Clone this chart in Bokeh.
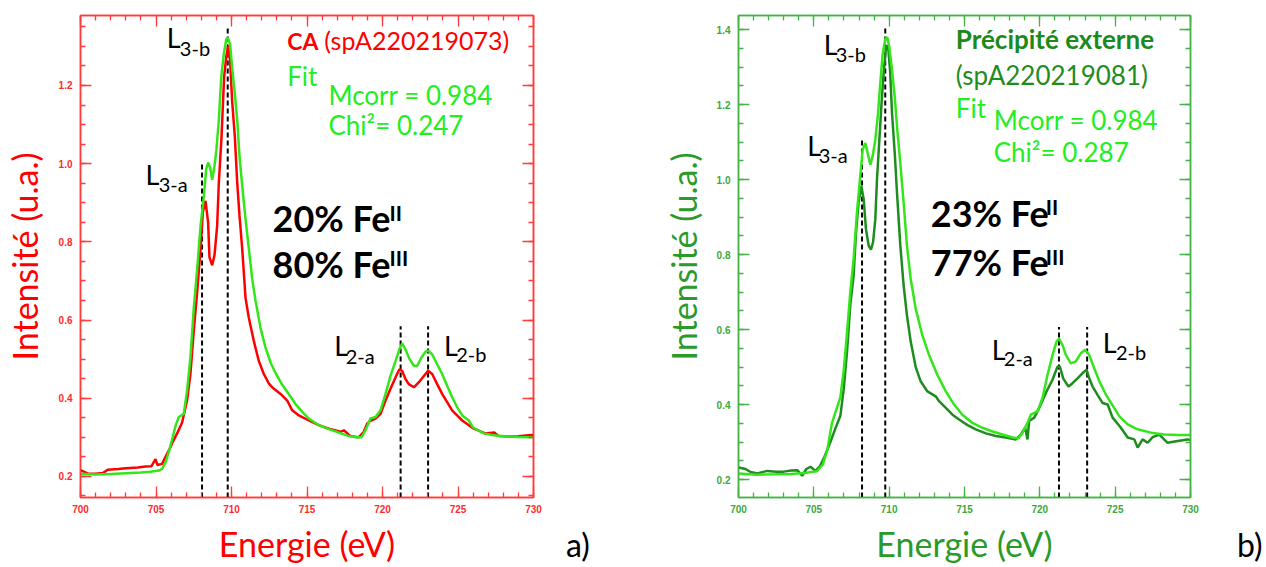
from bokeh.plotting import figure
from bokeh.models import (Label, LinearAxis, SingleIntervalTicker, Range1d,
                          PrintfTickFormatter, Div)
from bokeh.layouts import row
from bokeh.embed import file_html
from bokeh.resources import INLINE

# ---------------- Panel a : CA (spA220219073) ----------------
energy_a_exp = [700.0, 700.5, 701.0, 701.5, 701.8, 702.5, 703.0, 703.8, 704.3, 704.7,
                704.97, 705.1, 705.4, 705.63, 705.9, 706.07, 706.4, 706.73, 707.06, 707.28,
                707.5, 707.73, 707.95, 708.1, 708.28, 708.45, 708.54, 708.72, 708.87, 709.05,
                709.16, 709.34, 709.51, 709.65, 709.78, 709.91, 710.04, 710.22, 710.38, 710.53,
                710.71, 710.93, 711.15, 711.48, 711.81, 712.14, 712.47, 712.69, 713.25, 713.69,
                714.02, 714.46, 715.12, 715.78, 716.45, 717.22, 717.44, 717.88, 718.43, 718.76,
                718.98, 719.2, 719.54, 719.87, 720.2, 720.53, 720.86, 721.12, 721.3, 721.52,
                721.74, 722.08, 722.41, 722.74, 723.02, 723.29, 723.62, 723.95, 724.28, 724.61,
                724.94, 725.28, 725.72, 726.04, 726.8, 727.4, 727.7, 728.3, 729.0, 729.85, 730.0]
intensity_a_exp = [0.216, 0.207, 0.207, 0.209, 0.217, 0.219, 0.221, 0.223, 0.225, 0.226,
                   0.244, 0.229, 0.232, 0.25, 0.27, 0.285, 0.31, 0.338, 0.395, 0.462,
                   0.571, 0.673, 0.782, 0.875, 0.905, 0.85, 0.761, 0.74, 0.765, 0.841,
                   0.951, 1.069, 1.221, 1.272, 1.301, 1.263, 1.162, 1.069, 0.951, 0.867,
                   0.782, 0.656, 0.605, 0.546, 0.495, 0.462, 0.438, 0.428, 0.411, 0.394,
                   0.369, 0.356, 0.343, 0.331, 0.322, 0.314, 0.318, 0.303, 0.3, 0.314,
                   0.335, 0.342, 0.348, 0.36, 0.394, 0.424, 0.453, 0.474, 0.47, 0.449,
                   0.436, 0.428, 0.441, 0.457, 0.47, 0.462, 0.436, 0.411, 0.39, 0.369,
                   0.356, 0.343, 0.331, 0.322, 0.31, 0.312, 0.303, 0.302, 0.303, 0.306, 0.306]

energy_a_fit = [700.0, 701.0, 702.0, 703.0, 704.0, 704.6, 705.2, 705.4, 705.63, 705.9,
                706.07, 706.3, 706.51, 706.84, 707.06, 707.28, 707.5, 707.73, 707.95, 708.17,
                708.32, 708.45, 708.59, 708.72, 708.87, 709.0, 709.16, 709.32, 709.49, 709.65,
                709.76, 709.91, 710.04, 710.22, 710.38, 710.53, 710.71, 710.93, 711.15, 711.37,
                711.59, 711.92, 712.25, 712.6, 712.91, 713.35, 713.8, 714.24, 714.68, 715.12,
                715.78, 716.45, 717.11, 717.77, 718.21, 718.6, 718.87, 719.2, 719.54, 719.87,
                720.2, 720.53, 720.86, 721.12, 721.3, 721.52, 721.79, 722.08, 722.3, 722.58,
                722.85, 723.02, 723.29, 723.62, 723.95, 724.28, 724.61, 724.94, 725.28, 725.72,
                726.0, 726.7, 727.36, 728.27, 729.0, 730.0]
intensity_a_fit = [0.207, 0.205, 0.206, 0.208, 0.21, 0.212, 0.215, 0.219, 0.235, 0.27,
                   0.295, 0.33, 0.352, 0.36, 0.42, 0.504, 0.63, 0.732, 0.841, 0.917,
                   0.985, 1.003, 0.989, 0.959, 0.993, 1.035, 1.111, 1.221, 1.28, 1.318,
                   1.322, 1.305, 1.246, 1.179, 1.111, 1.019, 0.943, 0.858, 0.782, 0.706,
                   0.65, 0.58, 0.53, 0.49, 0.465, 0.435, 0.41, 0.385, 0.365, 0.348,
                   0.331, 0.321, 0.312, 0.303, 0.3, 0.3, 0.318, 0.348, 0.352, 0.369,
                   0.411, 0.457, 0.495, 0.525, 0.54, 0.525, 0.5, 0.483, 0.483, 0.504,
                   0.519, 0.522, 0.512, 0.487, 0.462, 0.432, 0.403, 0.377, 0.356, 0.343,
                   0.325, 0.31, 0.305, 0.302, 0.301, 0.3]

# ---------------- Panel b : Précipité externe (spA220219081) ----------------
energy_b_exp = [700.0, 700.47, 700.8, 701.24, 701.9, 702.5, 703.0, 703.5, 703.9, 704.23,
                704.5, 704.78, 705.1, 705.4, 705.7, 706.1, 706.42, 706.76, 706.98, 707.2,
                707.42, 707.64, 707.8, 707.97, 708.15, 708.31, 708.46, 708.64, 708.79, 708.93,
                709.08, 709.19, 709.35, 709.48, 709.63, 709.79, 709.92, 710.06, 710.19, 710.37,
                710.52, 710.74, 710.96, 711.18, 711.43, 711.76, 712.09, 712.54, 713.09, 713.31,
                713.76, 714.2, 714.64, 715.2, 715.75, 716.42, 717.08, 717.74, 718.41, 718.74,
                719.03, 719.18, 719.29, 719.63, 719.96, 720.4, 720.84, 721.17, 721.33, 721.55,
                721.9, 722.17, 722.5, 722.84, 723.1, 723.28, 723.5, 723.83, 724.17, 724.5,
                724.83, 725.38, 725.83, 726.27, 726.49, 726.82, 727.15, 727.49, 727.93, 728.48,
                729.15, 729.81, 730.0]
intensity_b_exp = [0.232, 0.228, 0.22, 0.216, 0.223, 0.221, 0.221, 0.224, 0.225, 0.21,
                   0.228, 0.234, 0.223, 0.235, 0.26, 0.3, 0.335, 0.37, 0.44, 0.54,
                   0.665, 0.744, 0.859, 0.939, 0.983, 0.947, 0.868, 0.824, 0.813, 0.833,
                   0.894, 1.0, 1.106, 1.195, 1.283, 1.354, 1.358, 1.292, 1.177, 1.071,
                   0.965, 0.824, 0.718, 0.638, 0.568, 0.5, 0.462, 0.435, 0.422, 0.409,
                   0.391, 0.373, 0.36, 0.345, 0.334, 0.323, 0.316, 0.312, 0.307, 0.32,
                   0.338, 0.307, 0.356, 0.365, 0.391, 0.431, 0.466, 0.501, 0.501, 0.47,
                   0.448, 0.457, 0.47, 0.484, 0.493, 0.47, 0.448, 0.426, 0.404, 0.4,
                   0.365, 0.338, 0.312, 0.307, 0.285, 0.307, 0.298, 0.313, 0.32, 0.298,
                   0.303, 0.307, 0.305]

energy_b_fit = [700.0, 701.2, 702.5, 703.5, 704.5, 705.2, 705.6, 705.9, 706.2, 706.53,
                706.76, 706.98, 707.2, 707.42, 707.64, 707.86, 708.08, 708.24, 708.42, 708.57,
                708.75, 708.9, 709.08, 709.26, 709.41, 709.57, 709.75, 709.88, 710.01, 710.19,
                710.37, 710.54, 710.74, 710.96, 711.18, 711.43, 711.76, 712.2, 712.65, 713.2,
                713.76, 714.31, 714.86, 715.53, 716.19, 716.86, 717.52, 718.19, 718.58, 718.85,
                719.18, 719.4, 719.85, 720.18, 720.51, 720.84, 721.11, 721.28, 721.5, 721.73,
                722.06, 722.39, 722.73, 723.01, 723.28, 723.61, 723.95, 724.39, 724.72, 725.27,
                725.83, 726.49, 727.38, 728.26, 729.15, 730.0]
intensity_b_fit = [0.216, 0.213, 0.214, 0.215, 0.218, 0.222, 0.24, 0.28, 0.35, 0.391,
                   0.42, 0.49, 0.59, 0.7, 0.789, 0.912, 1.009, 1.08, 1.098, 1.071,
                   1.04, 1.062, 1.106, 1.177, 1.257, 1.336, 1.376, 1.38, 1.354, 1.292,
                   1.221, 1.133, 1.045, 0.939, 0.824, 0.735, 0.656, 0.585, 0.532, 0.479,
                   0.435, 0.4, 0.373, 0.351, 0.338, 0.328, 0.32, 0.312, 0.31, 0.325,
                   0.351, 0.373, 0.382, 0.418, 0.479, 0.532, 0.568, 0.576, 0.559, 0.532,
                   0.51, 0.515, 0.537, 0.546, 0.532, 0.497, 0.462, 0.426, 0.405, 0.369,
                   0.347, 0.334, 0.325, 0.32, 0.319, 0.319]

# peak markers (energies and top of the dashed lines)
peaks_a_energy = [708.05, 709.75, 721.2, 723.02]
peaks_a_top = [1.0, 1.35, 0.584, 0.584]
peaks_b_energy = [708.2, 709.74, 721.27, 723.14]
peaks_b_top = [1.111, 1.407, 0.607, 0.607]

RED = "#ff0000"
FIT = "#33e61a"
FIT_TXT = "#22ee22"
DARK = "#1f8c1f"
FONT = "Lato"
H = 567


def style_axis(ax, frame_col):
    ax.axis_line_color = frame_col
    ax.axis_line_width = 1.5
    ax.major_tick_line_color = frame_col
    ax.minor_tick_line_color = frame_col
    ax.major_tick_line_width = 1.3
    ax.minor_tick_line_width = 1.3
    ax.major_tick_in = 11
    ax.major_tick_out = 0
    ax.minor_tick_in = 5
    ax.minor_tick_out = 0


def make_panel(width, left, right, top, bottom, yr, frame_col, tick_col, lab_col, ystand):
    p = figure(width=width, height=H, x_range=Range1d(700, 730), y_range=Range1d(*yr),
               output_backend="svg", toolbar_location=None,
               min_border_left=left, min_border_right=right,
               min_border_top=top, min_border_bottom=bottom,
               background_fill_color="white", border_fill_color="white")
    p.grid.visible = False
    p.outline_line_color = frame_col
    p.outline_line_width = 1.5
    p.xaxis.ticker = SingleIntervalTicker(interval=5, num_minor_ticks=5)
    p.yaxis.ticker = SingleIntervalTicker(interval=0.2, num_minor_ticks=4)
    p.yaxis.formatter = PrintfTickFormatter(format="%.1f")
    for ax in p.xaxis + p.yaxis:
        style_axis(ax, frame_col)
        ax.major_label_text_color = tick_col
        ax.major_label_text_font = "Liberation Sans"
        ax.major_label_text_font_style = "bold"
        ax.major_label_text_font_size = "10px"
        ax.axis_label_text_font = FONT
        ax.axis_label_text_font_style = "normal"
        ax.axis_label_text_font_size = "34px"
        ax.axis_label_text_color = lab_col
    p.xaxis.major_label_standoff = 7
    p.yaxis.major_label_standoff = 8
    p.xaxis.axis_label_standoff = 7
    p.yaxis.axis_label_standoff = ystand
    p.xaxis.axis_label = "Energie (eV)"
    p.yaxis.axis_label = "Intensité (u.a.)"
    # mirrored ticks on top and right
    top_ax = LinearAxis(ticker=SingleIntervalTicker(interval=5, num_minor_ticks=5))
    right_ax = LinearAxis(ticker=SingleIntervalTicker(interval=0.2, num_minor_ticks=4))
    for ax in (top_ax, right_ax):
        style_axis(ax, frame_col)
        ax.major_label_text_font_size = "1px"
        ax.major_label_text_alpha = 0
        ax.major_label_standoff = 0
    p.add_layout(top_ax, "above")
    p.add_layout(right_ax, "right")
    return p


def make_lab(ppu):
    # ppu: pixels per intensity unit; text is raised to compensate the
    # baseline offset that the renderer applies
    def lab(p, x, y, text, size, color, bold=False):
        y_adj = y + 0.33 * size / ppu
        p.add_layout(Label(x=x, y=y_adj, text=text, text_font=FONT,
                           text_font_size=f"{size}px", text_color=color,
                           text_font_style="bold" if bold else "normal",
                           text_baseline="alphabetic", text_align="left"))
    return lab


def panel_tag(text, width, left):
    html = (f'<div style="position:relative; top:529px; left:{left}px; font-family:Lato; '
            f'font-size:32px; line-height:1; color:black; white-space:nowrap;">{text}</div>')
    return Div(text=html, width=width, height=H, margin=0)


# ---------------- figure a ----------------
pa = make_panel(560, 80, 27, 15, 66, (0.146, 1.379), "#ff3b3b", "#ff2a2a", RED, 11)
pa.segment(x0=peaks_a_energy, y0=[0.146] * 4, x1=peaks_a_energy, y1=peaks_a_top,
           line_color="black", line_width=2, line_dash="5 3")
pa.line(energy_a_exp, intensity_a_exp, line_color=RED, line_width=2.5)
pa.line(energy_a_fit, intensity_a_fit, line_color=FIT, line_width=2.5)

la = make_lab(393.0)
la(pa, 705.72, 1.300, "L", 27, "black")
la(pa, 706.58, 1.280, "3-b", 20, "black")
la(pa, 704.30, 0.950, "L", 27, "black")
la(pa, 705.18, 0.930, "3-a", 20, "black")
la(pa, 716.80, 0.512, "L", 27, "black")
la(pa, 717.56, 0.492, "2-a", 20, "black")
la(pa, 724.08, 0.511, "L", 27, "black")
la(pa, 724.88, 0.497, "2-b", 20, "black")

la(pa, 713.69, 1.2955, "CA", 23, RED, bold=True)
la(pa, 716.15, 1.2955, "(spA220219073)", 25, RED)
la(pa, 713.69, 1.2023, "Fit", 26, FIT_TXT)
la(pa, 716.42, 1.1537, "Mcorr = 0.984", 26, FIT_TXT)
la(pa, 716.42, 1.076, "Chi²= 0.247", 26, FIT_TXT)

la(pa, 712.72, 0.830, "20% Fe", 36, "black", bold=True)
la(pa, 720.46, 0.858, "II", 21, "black", bold=True)
la(pa, 712.72, 0.714, "80% Fe", 36, "black", bold=True)
la(pa, 720.46, 0.742, "III", 21, "black", bold=True)

# ---------------- figure b ----------------
pb = make_panel(621, 134, 35, 12, 70, (0.152, 1.438), "#45b345", "#3aaa3a", "#2a9a2a", 10)
pb.segment(x0=peaks_b_energy, y0=[0.152] * 4, x1=peaks_b_energy, y1=peaks_b_top,
           line_color="black", line_width=2, line_dash="5 3")
pb.line(energy_b_exp, intensity_b_exp, line_color=DARK, line_width=2.5)
pb.line(energy_b_fit, intensity_b_fit, line_color=FIT, line_width=2.5)

lb = make_lab(377.0)
lb(pb, 705.65, 1.336, "L", 27, "black")
lb(pb, 706.45, 1.318, "3-b", 20, "black")
lb(pb, 704.56, 1.0665, "L", 27, "black")
lb(pb, 705.32, 1.049, "3-a", 20, "black")
lb(pb, 716.81, 0.5234, "L", 27, "black")
lb(pb, 717.61, 0.506, "2-a", 20, "black")
lb(pb, 724.17, 0.541, "L", 27, "black")
lb(pb, 725.05, 0.5227, "2-b", 20, "black")

lb(pb, 714.42, 1.352, "Précipité externe", 26, "#1a8a1a", bold=True)
lb(pb, 714.42, 1.2564, "(spA220219081)", 26, "#1f8c1f")
lb(pb, 714.42, 1.169, "Fit", 26, FIT_TXT)
lb(pb, 716.94, 1.137, "Mcorr = 0.984", 26, FIT_TXT)
lb(pb, 716.94, 1.050, "Chi²= 0.287", 26, FIT_TXT)

lb(pb, 712.76, 0.880, "23% Fe", 36, "black", bold=True)
lb(pb, 720.40, 0.909, "II", 21, "black", bold=True)
lb(pb, 712.76, 0.748, "77% Fe", 36, "black", bold=True)
lb(pb, 720.40, 0.777, "III", 21, "black", bold=True)

tag_a = panel_tag("a)", 44, 6)
tag_b = panel_tag("b)", 41, 12)

layout = row(pa, tag_a, pb, tag_b)
open("out.html", "w").write(file_html(layout, INLINE))
